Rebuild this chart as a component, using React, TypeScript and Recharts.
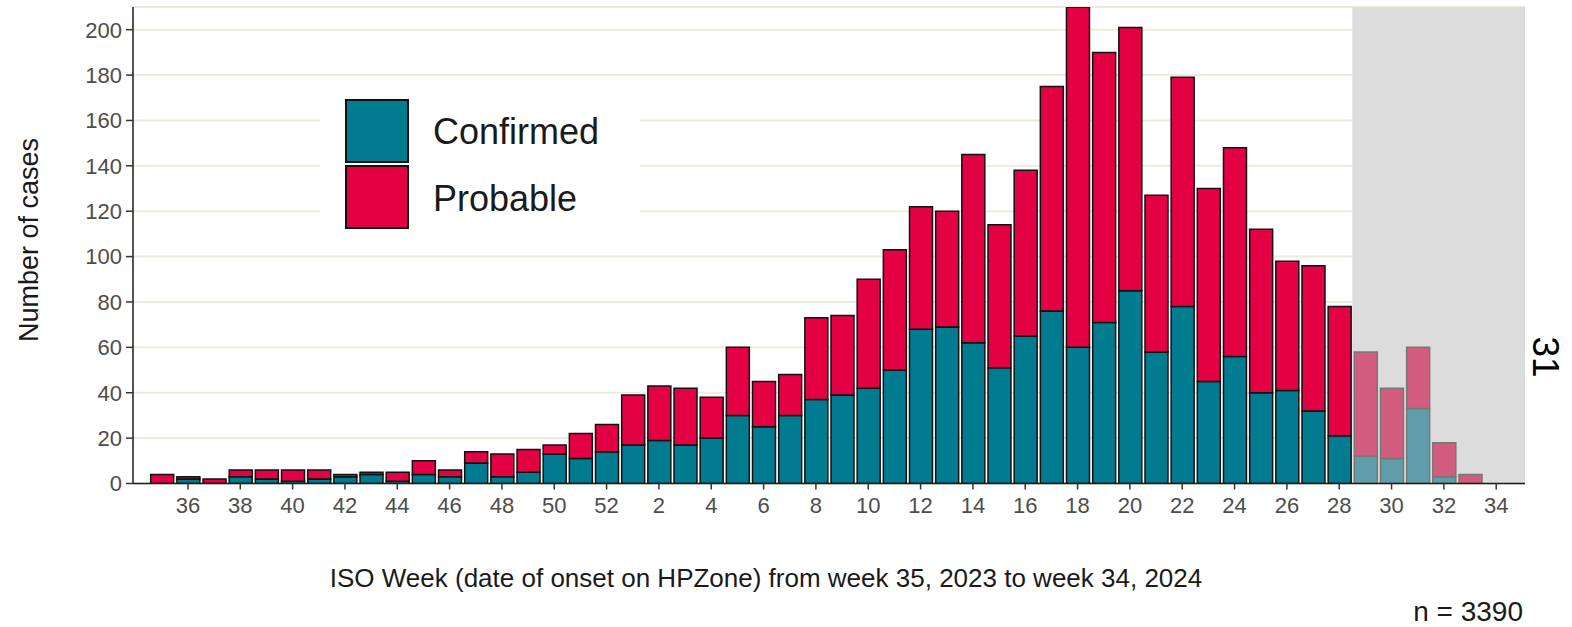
import React from "react";
import {
  ComposedChart,
  Bar,
  XAxis,
  YAxis,
  CartesianGrid,
  ReferenceArea,
  Cell,
} from "recharts";

// ISO weeks from week 35, 2023 to week 34, 2024
const weeks: number[] = [
  35, 36, 37, 38, 39, 40, 41, 42, 43, 44, 45, 46, 47, 48, 49, 50, 51, 52,
  1, 2, 3, 4, 5, 6, 7, 8, 9, 10, 11, 12, 13, 14, 15, 16, 17, 18, 19, 20,
  21, 22, 23, 24, 25, 26, 27, 28, 29, 30, 31, 32, 33, 34,
];

const confirmed: number[] = [
  0, 2, 0, 3, 2, 1, 2, 3, 4, 1, 4, 3, 9, 3, 5, 13, 11, 14,
  17, 19, 17, 20, 30, 25, 30, 37, 39, 42, 50, 68, 69, 62, 51, 65, 76, 60, 71, 85,
  58, 78, 45, 56, 40, 41, 32, 21, 12, 11, 33, 3, 0, 0,
];

const probable: number[] = [
  4, 1, 2, 3, 4, 5, 4, 1, 1, 4, 6, 3, 5, 10, 10, 4, 11, 12,
  22, 24, 25, 18, 30, 20, 18, 36, 35, 48, 53, 54, 51, 83, 63, 73, 99, 150, 119, 116,
  69, 101, 85, 92, 72, 57, 64, 57, 46, 31, 27, 15, 4, 0,
];

// Weeks still provisional (shaded area)
const provisionalWeeks: number[] = [29, 30, 31, 32, 33, 34];

const yTicks: number[] = [0, 20, 40, 60, 80, 100, 120, 140, 160, 180, 200];
const xTickWeeks: number[] = [
  36, 38, 40, 42, 44, 46, 48, 50, 52, 2, 4, 6, 8, 10, 12, 14, 16, 18, 20, 22,
  24, 26, 28, 30, 32, 34,
];

const TEAL = "#007B8F";
const RED = "#E30043";
const TEAL_FADE = "#5E9DA9";
const RED_FADE = "#D15C7E";

const data = weeks.map((w, i) => ({
  idx: i,
  week: w,
  confirmed: confirmed[i],
  probable: probable[i],
  provisional: provisionalWeeks.includes(w) && i >= 18,
}));

const xTickIdx = xTickWeeks.map((w, k) => {
  // first occurrences of weeks >= 36 are in 2023, the rest in 2024
  const inFirst = k < 9;
  return data.findIndex((d) => d.week === w && (inFirst ? d.idx < 18 : d.idx >= 18));
});

const firstProvisional = data.findIndex((d) => d.provisional);

const FONT = "'Liberation Sans', Arial, Helvetica, sans-serif";

export default function App() {
  return (
    <div
      style={{
        position: "absolute",
        left: 0,
        top: 0,
        width: 1572,
        height: 627,
        background: "#fff",
        fontFamily: FONT,
      }}
    >
      <ComposedChart
        width={1572}
        height={627}
        data={data}
        margin={{ top: 7, right: 47, left: 0, bottom: 103.5 }}
        barGap={0}
      >
        <CartesianGrid
          vertical={false}
          stroke="#ECECDE"
          strokeWidth={2}
        />
        <ReferenceArea
          x1={firstProvisional - 0.5}
          x2={52.1}
          y1={0}
          y2={210}
          fill="#DCDCDC"
          fillOpacity={1}
          stroke="none"
          ifOverflow="visible"
        />
        <XAxis
          dataKey="idx"
          type="number"
          domain={[-1.1, 52.1]}
          allowDataOverflow
          ticks={xTickIdx}
          interval={0}
          tickFormatter={(v: number) => String(weeks[v])}
          height={40}
          tickSize={6}
          tickMargin={8}
          axisLine={{ stroke: "#1a1a1a", strokeWidth: 1.5 }}
          tickLine={{ stroke: "#333", strokeWidth: 1.5 }}
          tick={{ fill: "#4d4d4d", fontSize: 22, fontFamily: FONT }}
        />
        <YAxis
          type="number"
          domain={[0, 210]}
          allowDataOverflow
          ticks={yTicks}
          interval={0}
          width={133}
          tickSize={7}
          tickMargin={4}
          axisLine={{ stroke: "#1a1a1a", strokeWidth: 1.5 }}
          tickLine={{ stroke: "#333", strokeWidth: 1.5 }}
          tick={{ fill: "#4d4d4d", fontSize: 22, fontFamily: FONT }}
        />
        <Bar
          dataKey="confirmed"
          stackId="a"
          barSize={23}
          fill={TEAL}
          stroke="#111"
          strokeWidth={1.5}
          isAnimationActive={false}
        >
          {data.map((d) => (
            <Cell
              key={`c${d.idx}`}
              fill={d.provisional ? TEAL_FADE : TEAL}
              stroke={d.provisional ? "#777" : "#111"}
            />
          ))}
        </Bar>
        <Bar
          dataKey="probable"
          stackId="a"
          barSize={23}
          fill={RED}
          stroke="#111"
          strokeWidth={1.5}
          isAnimationActive={false}
        >
          {data.map((d) => (
            <Cell
              key={`p${d.idx}`}
              fill={d.provisional ? RED_FADE : RED}
              stroke={d.provisional ? "#777" : "#111"}
            />
          ))}
        </Bar>
      </ComposedChart>

      {/* Legend */}
      <div
        style={{
          position: "absolute",
          left: 320,
          top: 88,
          width: 320,
          height: 152,
          background: "#fff",
        }}
      >
        <div
          style={{
            position: "absolute",
            left: 25,
            top: 11,
            width: 64,
            height: 64,
            boxSizing: "border-box",
            border: "2px solid #111",
            background: TEAL,
          }}
        />
        <div
          style={{
            position: "absolute",
            left: 25,
            top: 77,
            width: 64,
            height: 64,
            boxSizing: "border-box",
            border: "2px solid #111",
            background: RED,
          }}
        />
        <div
          style={{
            position: "absolute",
            left: 113,
            top: 24,
            height: 40,
            lineHeight: "40px",
            fontSize: 36,
            color: "#1a1a1a",
            whiteSpace: "nowrap",
          }}
        >
          Confirmed
        </div>
        <div
          style={{
            position: "absolute",
            left: 113,
            top: 91,
            height: 40,
            lineHeight: "40px",
            fontSize: 36,
            color: "#1a1a1a",
            whiteSpace: "nowrap",
          }}
        >
          Probable
        </div>
      </div>

      {/* Y axis title */}
      <div
        style={{
          position: "absolute",
          left: 29,
          top: 240,
          transform: "translate(-50%, -50%) rotate(-90deg)",
          fontSize: 27,
          color: "#1a1a1a",
          whiteSpace: "nowrap",
          lineHeight: "30px",
        }}
      >
        Number of cases
      </div>

      {/* X axis title */}
      <div
        style={{
          position: "absolute",
          left: 766,
          top: 578,
          transform: "translate(-50%, -50%)",
          fontSize: 26,
          color: "#1a1a1a",
          whiteSpace: "nowrap",
          lineHeight: "30px",
        }}
      >
        ISO Week (date of onset on HPZone) from week 35, 2023 to week 34, 2024
      </div>

      {/* n */}
      <div
        style={{
          position: "absolute",
          right: 1572 - 1523,
          top: 612,
          transform: "translateY(-50%)",
          fontSize: 28,
          color: "#1a1a1a",
          whiteSpace: "nowrap",
          lineHeight: "30px",
        }}
      >
        n = 3390
      </div>

      {/* page number */}
      <div
        style={{
          position: "absolute",
          left: 1545,
          top: 357,
          transform: "translate(-50%, -50%) rotate(90deg)",
          fontSize: 37,
          color: "#000",
          whiteSpace: "nowrap",
          lineHeight: "40px",
        }}
      >
        31
      </div>
    </div>
  );
}
